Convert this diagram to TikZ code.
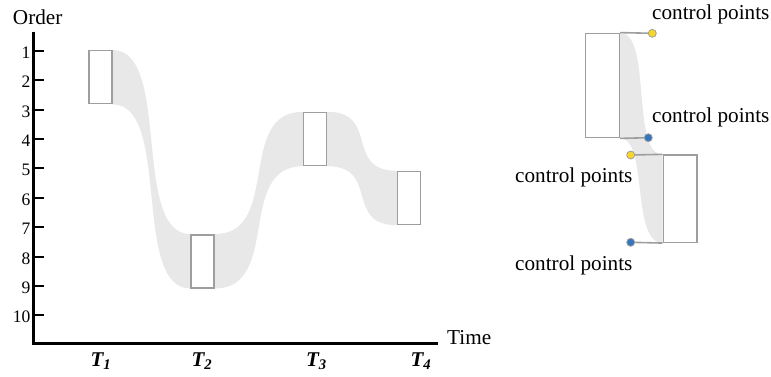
\documentclass[tikz,border=0pt]{standalone}
\usepackage{fontspec}
\setmainfont{Liberation Serif}
\usetikzlibrary{positioning,calc,backgrounds}
\definecolor{boxgray}{RGB}{158,158,158}
\definecolor{bandgray}{RGB}{232,232,232}
\definecolor{cpyellow}{RGB}{248,214,40}
\definecolor{cpblue}{RGB}{52,118,190}
\tikzset{
  seg/.style={draw=boxgray, line width=1.4pt, fill=white, minimum width=23pt, minimum height=53pt, inner sep=0pt},
  wseg/.style={seg, minimum width=33.6pt},
  band/.style={fill=bandgray},
  axis/.style={line width=2.6pt},
  tk/.style={line width=2pt},
  lbl/.style={font=\fontsize{21.2}{25}\selectfont, inner sep=0pt},
  num/.style={font=\fontsize{17.5}{20}\selectfont, inner sep=0pt, anchor=east},
  tlbl/.style={font=\fontsize{21}{24}\selectfont\bfseries\itshape, inner sep=0pt, anchor=base},
  cp/.style={circle, draw=boxgray, line width=0.8pt, inner sep=0pt, minimum size=8pt},
  lead/.style={draw=boxgray, line width=1.6pt},
}

\begin{document}
\begin{tikzpicture}[x=1pt,y=-1pt]
\useasboundingbox (0,0) rectangle (771,376);
% axes
\coordinate (ytop) at (33.5,31.7);
\coordinate (xend) at (438,343.3);
\draw[axis] (ytop) |- (xend);
\node[lbl, anchor=base] (ord) at (37.7,24) {Order};
\node[lbl, anchor=base west] (tm) at (447,344) {Time};
\foreach \k in {1,...,10} {\draw[tk] (33.5,{50.7+(\k-1)*29.4}) -- +(10,0); \node[num] (n\k) at (30.5,{52.5+(\k-1)*29.4}) {\k};}
% order segments
\node[seg] (t1) at (100.5,77.2) {};
\node[seg] (t2) at (202.5,261.3) {};
\node[seg] (t3) at (315,139) {};
\node[seg] (t4) at (409,198) {};
\node[tlbl] (l1) at (101,366) {T\textsubscript{1}};
\node[tlbl] (l2) at (202,366) {T\textsubscript{2}};
\node[tlbl] (l3) at (316.5,366) {T\textsubscript{3}};
\node[tlbl] (l4) at (421,366) {T\textsubscript{4}};
\begin{scope}[on background layer]
\foreach \a/\b/\d in {t1/t2/59,t2/t3/67,t3/t4/53} {\fill[band] (\a.north east) .. controls +(\d,0) and +(-\d,0) .. (\b.north west) -- (\b.south west) .. controls +(-\d,0) and +(\d,0) .. (\a.south east) -- cycle;}
\end{scope}
% detail with control points
\node[wseg, minimum height=104.4pt] (a) at (602.5,85.5) {};
\node[wseg, minimum height=87.3pt] (b) at (680,198.7) {};
\draw[lead] (a.north east) -- (652.3,33.3) coordinate (y1c);
\draw[lead] (a.south east) -- (648.3,137.7) coordinate (u1c);
\draw[lead] (b.north west) -- (630.7,155) coordinate (y2c);
\draw[lead] (b.south west) -- (630.7,242.3) coordinate (u2c);
\node[cp, fill=cpyellow] (y1) at (y1c) {};
\node[cp, fill=cpblue] (u1) at (u1c) {};
\node[cp, fill=cpyellow] (y2) at (y2c) {};
\node[cp, fill=cpblue] (u2) at (u2c) {};
\begin{scope}[on background layer]
\fill[band] (a.north east) .. controls (y1.center) and (y2.center) .. (b.north west) -- (b.south west) .. controls (u2.center) and (u1.center) .. (a.south east) -- cycle;
\end{scope}
\node[lbl, anchor=base west] (c1) at (652,19) {control points};
\node[lbl, anchor=base west] (c2) at (652,122.5) {control points};
\node[lbl, anchor=base west] (c3) at (515,182.3) {control points};
\node[lbl, anchor=base west] (c4) at (515,270.7) {control points};
\end{tikzpicture}
\end{document}
